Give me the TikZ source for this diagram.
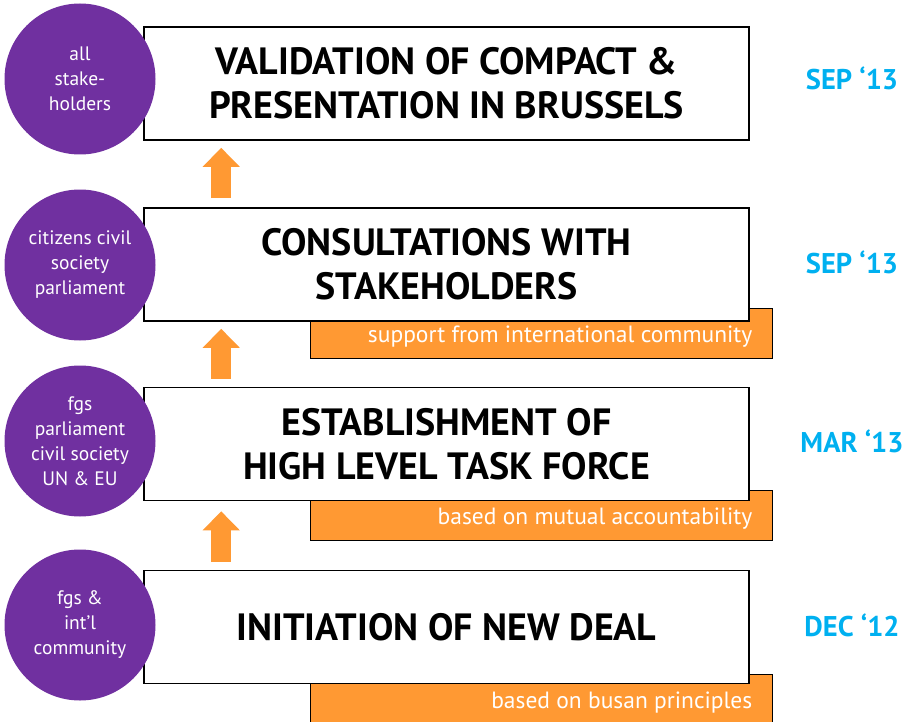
\documentclass[tikz,border=0pt]{standalone}
\usepackage{fontspec}
\setmainfont{PT Sans}
\usetikzlibrary{positioning, calc, arrows.meta}
\definecolor{dealpurple}{HTML}{7030A0}
\definecolor{dealorange}{HTML}{FF9933}
\definecolor{dealblue}{HTML}{00B0F0}

\begin{document}
\begin{tikzpicture} [
  x=1pt, y=-1pt,
  stage/.style={
    draw=black, line width=1.6pt, fill=white, rectangle, inner sep=0pt,
    minimum width=605pt, minimum height=113pt, align=center,
    font=\fontsize{38}{44}\selectfont\bfseries
  },
  basis/.style={draw=black, line width=1pt, fill=dealorange, rectangle, minimum width=462pt, minimum height=50pt},
  basistext/.style={text=white, inner sep=0pt, font=\fontsize{23.5}{26}\selectfont},
  who/.style={
    circle, fill=dealpurple, text=white, minimum size=151pt, inner sep=0pt, align=center,
    font=\fontsize{19.5}{25}\selectfont},
  when/.style={text=dealblue, font=\fontsize{28.5}{30}\selectfont\bfseries},
  rise/.style={draw=dealorange, line width=20pt, -{Triangle[length=19pt, width=36pt]}}
  ]
  \useasboundingbox (0,0) rectangle (912,722);
  % orange tabs behind the steps
  \node(b2)[basis] at (541,333) {};
  \node(b3)[basis] at (541,515) {};
  \node(b4)[basis] at (541,699) {};
  \node[basistext, anchor=base east] at ($(b2.south east)+(-20,-16)$) {support from international community};
  \node[basistext, anchor=base east] at ($(b3.south east)+(-20,-16)$) {based on mutual accountability};
  \node[basistext, anchor=base east] at ($(b4.south east)+(-20,-16)$) {based on busan principles};
  % steps
  \node(s1)[stage] at (446.5,83.5) {VALIDATION OF COMPACT \&\\PRESENTATION IN BRUSSELS};
  \node(s2)[stage] at (446.5,264.5) {CONSULTATIONS WITH\\STAKEHOLDERS};
  \node(s3)[stage] at (446.5,444) {ESTABLISHMENT OF\\HIGH LEVEL TASK FORCE};
  \node(s4)[stage] at (446.5,627) {INITIATION OF NEW DEAL};
  % who takes part
  \node(c1)[who] at (80,79) {all\\stake-\\holders};
  \node(c2)[who] at (80,265) {citizens civil\\society\\parliament};
  \node(c3)[who] at (80,441) {fgs\\parliament\\civil society\\UN \& EU};
  \node(c4)[who] at (80,625) {fgs \&\\int'l\\community};
  % dates
  \node(d1)[when] at (852,78) {SEP ‘13};
  \node(d2)[when] at (852,262) {SEP ‘13};
  \node(d3)[when] at (852,441) {MAR ‘13};
  \node(d4)[when] at (852,625) {DEC ‘12};
  % arrows
  \draw[rise] ($(s4.north west)+(78,-8)$) -- ($(s3.south west)+(78,10)$);
  \draw[rise] ($(s3.north west)+(78,-8)$) -- ($(s2.south west)+(78,7)$);
  \draw[rise] ($(s2.north west)+(78,-9)$) -- ($(s1.south west)+(78,7)$);
\end{tikzpicture}
\end{document}
